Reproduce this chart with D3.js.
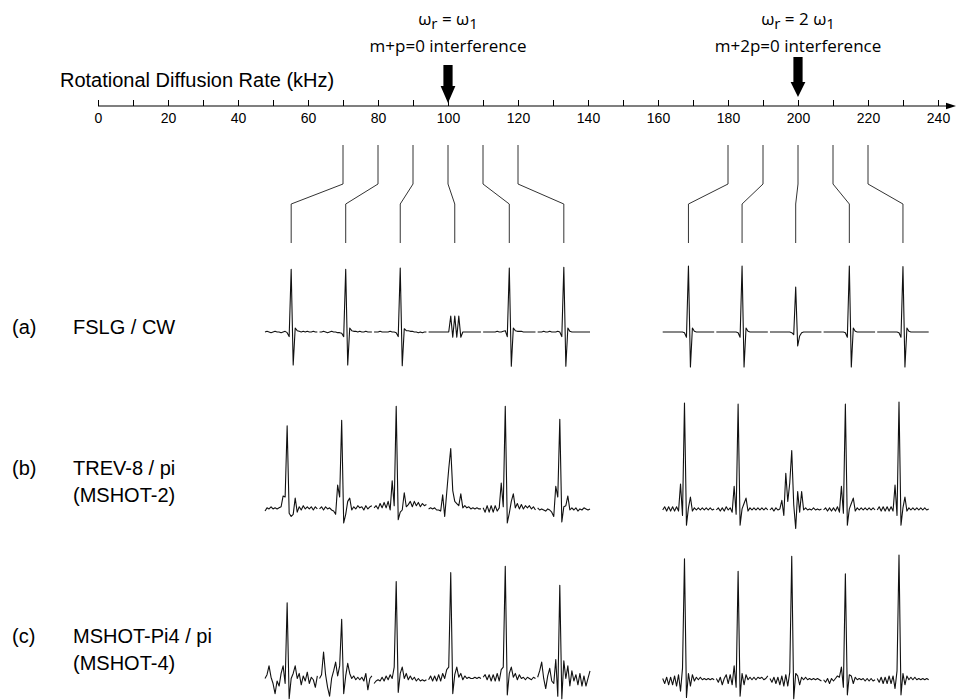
<!DOCTYPE html>
<html><head><meta charset="utf-8">
<script src="https://cdn.jsdelivr.net/npm/d3@7"></script>
<style>body{margin:0;background:#fff}svg{display:block}</style>
</head><body>
<svg id="chart" width="956" height="700"></svg>
<script>
// ---------------- DATA ----------------
const axisTicks = [0,10,20,30,40,50,60,70,80,90,100,110,120,130,140,150,160,170,180,190,200,210,220,230,240];
const axisLabels = [0,20,40,60,80,100,120,140,160,180,200,220,240];
const axisTitle = "Rotational Diffusion Rate (kHz)";
const leftRates = [70,80,90,100,110,120];
const rightRates = [180,190,200,210,220];
// frequency offset grid of each small spectrum (common to all)
const offsetGrid = [-26,-24,-22,-20,-18,-16,-14,-12,-10,-8,-6,-4,-2,0,2,4,6,8,10,12,14,16,18,20,22,24,26];

const annotations = [
  {rate:100, head:["ω","r"," = ω","1"], note:"m+p=0 interference"},
  {rate:200, head:["ω","r"," = 2 ω","1"], note:"m+2p=0 interference"}
];
const rowLabels = [
  {tag:"(a)", lines:["FSLG / CW"]},
  {tag:"(b)", lines:["TREV-8 / pi","(MSHOT-2)"]},
  {tag:"(c)", lines:["MSHOT-Pi4 / pi","(MSHOT-4)"]}
];

// (a) FSLG / CW  (relative intensity, tallest = 100)
const fslgLeft = [
  [0,1,0,-1,0,1,0,0,-1,0,1,-1,-7,95,-50,6,2,1,0,1,0,1,0,0,1,0,0],
  [0,0,1,0,-1,0,1,0,0,-1,-1,-2,-7,95,-50,6,2,1,1,0,1,0,0,1,0,0,0],
  [0,0,0,1,0,0,0,0,1,0,0,-1,-7,97,-51,5,2,2,1,1,0,0,-1,0,-1,0,0],
  [0,0,0,0,0,0,0,0,0,0,0,24,-8,24,-8,24,-8,0,0,0,0,0,0,0,0,0,0],
  [0,0,0,0,0,0,0,1,0,0,1,2,-7,97,-52,6,2,1,1,1,0,0,0,0,0,0,0],
  [0,0,0,1,0,0,1,0,0,0,1,0,-7,98,-52,6,1,0,0,0,0,0,0,0,0,0,0]
];
const fslgRight = [
  [0,0,0,0,0,0,0,0,0,0,0,-1,-8,100,-53,6,1,0,0,0,0,0,0,0,0,0,0],
  [0,0,0,0,0,0,0,0,0,0,0,-1,-8,100,-53,6,1,0,0,0,0,0,0,0,0,0,0],
  [0,0,0,0,0,0,0,0,0,0,0,-1,-4,68,-21,-6,-1,0,0,0,0,0,0,0,0,0,0],
  [0,0,0,0,0,0,0,0,0,0,0,-1,-8,100,-53,6,1,0,0,0,0,0,0,0,0,0,0],
  [0,0,0,0,0,0,0,0,0,0,0,-1,-8,99,-53,6,1,0,0,0,0,0,0,0,0,0,0]
];
// (b) TREV-8 / pi (MSHOT-2)
const trevLeft = [
  [-1,2,1,3,1,2,1,2,3,13,12,78,-3,-6,-4,11,-2,3,0,4,1,3,1,3,0,3,1],
  [1,3,0,3,1,2,0,-1,-4,23,12,83,-12,-4,8,11,0,3,1,4,2,3,0,4,1,3,4],
  [2,4,1,6,2,7,2,8,0,27,4,96,-9,-2,0,16,3,5,8,3,8,4,7,3,6,4,5],
  [1,2,1,2,0,0,-1,14,-6,16,38,57,18,8,6,4,15,2,4,2,3,1,2,1,2,1,1],
  [2,-2,4,-2,4,-2,4,-1,2,25,3,96,-12,-3,8,15,2,6,1,5,1,4,2,4,1,3,0],
  [2,0,1,0,-1,1,0,-2,-6,22,12,84,-11,3,4,13,0,2,0,2,-1,1,0,2,1,0,1]
];
const trevRight = [
  [0,3,-1,3,-1,3,-1,3,-1,24,-5,99,-14,2,12,-1,2,0,2,0,2,0,2,0,2,0,1],
  [0,2,-1,2,-1,3,0,2,-2,22,-4,98,-14,1,6,11,-1,2,0,2,0,2,0,2,0,2,0],
  [0,2,-1,2,0,1,9,-5,34,8,25,55,5,-17,17,-2,17,0,2,0,1,0,2,0,1,0,1],
  [0,2,-1,2,-1,2,-1,3,-2,22,-3,98,-14,1,6,11,-1,2,0,2,0,2,0,2,0,2,0],
  [0,3,-1,3,-1,3,-1,3,-1,23,-5,100,-14,2,12,-1,2,0,2,0,2,0,2,0,2,0,1]
];
// (c) MSHOT-Pi4 / pi (MSHOT-4)
const mshotLeft = [
  [2,5,12,3,-2,-10,0,-4,6,12,-2,62,-14,2,6,12,2,6,-3,4,0,7,-2,3,1,-5,4],
  [2,5,23,5,-5,-12,2,8,15,4,12,49,-10,4,14,6,2,4,1,3,1,3,0,6,-7,2,4],
  [-2,0,1,0,3,0,4,1,5,2,11,79,-9,6,11,2,6,1,4,1,3,0,2,0,1,0,1],
  [1,4,0,4,0,5,0,6,2,9,11,86,-10,5,11,3,6,1,4,2,3,2,2,3,2,3,2],
  [3,5,1,5,0,5,0,6,0,9,11,91,-11,6,11,3,6,1,5,2,3,1,3,2,1,3,2],
  [3,8,15,2,-6,4,10,0,-2,17,-12,76,-14,16,2,12,-4,8,0,5,-3,6,-4,4,-4,2,8]
];
const mshotRight = [
  [2,-2,3,-3,3,-3,4,-4,5,-8,10,97,-13,6,-4,5,0,3,1,3,1,2,1,2,1,2,1],
  [2,-1,3,-3,2,5,-2,5,-3,12,-5,87,-12,6,-3,5,1,3,1,3,1,3,2,3,1,2,4],
  [2,-1,3,-2,3,-3,4,-4,5,-4,7,99,-14,6,4,-3,3,1,3,1,2,1,2,1,2,1,0],
  [1,-1,2,-2,2,0,2,4,3,11,-5,85,-11,5,4,-2,3,1,2,1,2,0,2,0,2,0,1],
  [2,-1,3,-2,3,-2,4,-2,4,-6,8,100,-11,6,-3,4,1,3,1,3,1,2,1,2,1,2,1]
];

// ---------------- LAYOUT ----------------
const svg = d3.select("#chart");
const SANS = "'Liberation Sans', Arial, Helvetica, sans-serif";
const MYR = "'Open Sans', 'Noto Sans', sans-serif";
const AXIS_Y = 106;
const x = d3.scaleLinear().domain([0, 240]).range([98, 938]);

// axis
const axisG = svg.append("g").attr("transform", `translate(0,${AXIS_Y})`)
  .call(d3.axisBottom(x).tickValues(axisTicks).tickSizeInner(-6).tickSizeOuter(0).tickPadding(7)
    .tickFormat(d => axisLabels.includes(d) ? d : ""));
axisG.select(".domain").remove();
axisG.selectAll(".tick line").attr("stroke", "#000").attr("stroke-width", 1);
axisG.selectAll(".tick text").attr("font-family", SANS).attr("font-size", 14).attr("fill", "#000");
axisG.append("line").attr("x1", x(0)).attr("x2", 948).attr("y1", 0).attr("y2", 0)
  .attr("stroke", "#000").attr("stroke-width", 1.2);
axisG.append("path").attr("d", "M946,-3.2L956,0L946,3.2Z").attr("fill", "#000");

svg.append("text").attr("x", 60).attr("y", 87).attr("font-family", SANS).attr("font-size", 20)
  .attr("fill", "#000").text(axisTitle);

// annotations
const arrowGeom = [{top:65, neck:86, tip:103}, {top:57, neck:82, tip:97}];
annotations.forEach((a, i) => {
  const cx = x(a.rate);
  const t = svg.append("text").attr("x", cx).attr("y", 25).attr("text-anchor", "middle")
    .attr("font-family", MYR).attr("font-size", 17).attr("fill", "#000");
  a.head.forEach((s, j) => {
    const sub = j % 2 === 1;
    t.append("tspan").attr("dy", sub ? 4 : (j === 0 ? 0 : -4))
      .attr("font-size", sub ? 15 : 17).text(s);
  });
  svg.append("text").attr("x", cx).attr("y", 52).attr("text-anchor", "middle")
    .attr("font-family", MYR).attr("font-size", 17).attr("fill", "#000").text(a.note);
  const g = arrowGeom[i], sw = 4.6, hw = 7.4;
  svg.append("path").attr("fill", "#000")
    .attr("d", `M${cx-sw},${g.top}H${cx+sw}V${g.neck}H${cx+hw}L${cx},${g.tip}L${cx-hw},${g.neck}H${cx-sw}Z`);
});

// spectra groups
const rows = [
  {base:332, h:66},
  {base:510, h:108},
  {base:681, h:126}
];
const groups = [
  {rates:leftRates, range:[265, 590], data:[fslgLeft, trevLeft, mshotLeft]},
  {rates:rightRates, range:[662.7, 928.7], data:[fslgRight, trevRight, mshotRight]}
];
const CONN = {top:145, k1:184, k2:204, bottom:243};

groups.forEach(gr => {
  const band = d3.scaleBand().domain(gr.rates).range(gr.range).paddingInner(0.04);
  gr.rates.forEach((r, i) => {
    const c = band(r) + band.bandwidth() / 2;
    svg.append("path").attr("fill", "none").attr("stroke", "#333").attr("stroke-width", 1)
      .attr("d", `M${x(r)},${CONN.top}V${CONN.k1}L${c},${CONN.k2}V${CONN.bottom}`);
    const xs = d3.scaleLinear().domain([-26, 26]).range([band(r), band(r) + band.bandwidth()]);
    rows.forEach((row, k) => {
      const ys = d3.scaleLinear().domain([0, 100]).range([row.base, row.base - row.h]);
      const line = d3.line().x((d, j) => xs(offsetGrid[j])).y(d => ys(d));
      svg.append("path").datum(gr.data[k][i]).attr("fill", "none")
        .attr("stroke", "#111").attr("stroke-width", 1.1).attr("stroke-linejoin", "round")
        .attr("d", line);
    });
  });
});

// row labels
const labelBase = [334, 475, 643];
rowLabels.forEach((lab, k) => {
  svg.append("text").attr("x", 12).attr("y", labelBase[k]).attr("font-family", SANS)
    .attr("font-size", 20).attr("fill", "#000").text(lab.tag);
  lab.lines.forEach((ln, m) => {
    svg.append("text").attr("x", 73).attr("y", labelBase[k] + m * 27).attr("font-family", SANS)
      .attr("font-size", 20).attr("fill", "#000").text(ln);
  });
});
</script>
</body></html>
